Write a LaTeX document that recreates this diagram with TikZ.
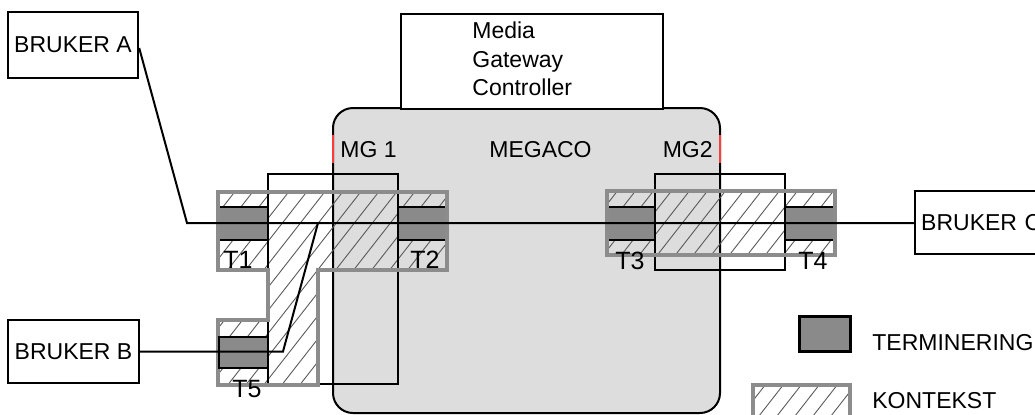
\documentclass[tikz,border=0pt]{standalone}
\usepackage{fontspec}
\setmainfont{Liberation Sans}
\definecolor{megafill}{HTML}{DDDDDD}
\definecolor{ctxgray}{HTML}{8C8C8C}
\definecolor{termgray}{HTML}{8A8A8A}
\definecolor{hatchgray}{HTML}{5A5A5A}
\definecolor{markred}{HTML}{FF3B3B}
\begin{document}
\begin{tikzpicture}[x=0.5pt,y=-0.5pt,
  box/.style={draw=black,line width=1.2pt,fill=white,inner sep=0pt,font=\fontsize{11.5}{14}\selectfont},
  lbl/.style={font=\fontsize{11.5}{14}\selectfont,inner sep=0pt},
  tlbl/.style={font=\fontsize{12.5}{15}\selectfont,inner sep=0pt,anchor=base west},
  sig/.style={line width=1pt,draw=black},
  ctx/.style={draw=ctxgray,line width=1.6pt,line join=miter},
  hatchline/.style={draw=hatchgray,line width=0.45pt},
  blk/.style={draw=black,line width=1pt},
  termfill/.style={fill=termgray},
  termline/.style={draw=black,line width=1.3pt},
]
\useasboundingbox (0,0) rectangle (1035,414);
\clip (0,0) rectangle (1035,414);

% MEGACO gateway body
\draw[line width=1pt,fill=megafill,rounded corners=10pt] (333,108) rectangle (720,413);
\node[draw=black,line width=1pt,fill=white,inner sep=0pt,minimum width=131pt,minimum height=47.5pt,anchor=north west] (mgc) at (400,13) {};
\node[lbl,anchor=base west] (mgc1) at (472,38) {Media};
\node[lbl,anchor=base west] (mgc2) at (472,67) {Gateway};
\node[lbl,anchor=base west] (mgc3) at (472,95) {Controller};
\draw[markred,line width=1pt] (333,135) -- (333,163);
\draw[markred,line width=1pt] (720,135) -- (720,163);
\node[lbl,anchor=base west] (mg1) at (340,157) {MG 1};
\node[lbl,anchor=base west] (meg) at (489,157) {MEGACO};
\node[lbl,anchor=base east] (mg2) at (713,157) {MG2};

% hatching of contexts
\begin{scope}
  \clip (218,192) -- (447,192) -- (447,270) -- (318,270) -- (318,385) -- (218,385) -- (218,320) -- (268,320) -- (268,270) -- (218,270) -- cycle;
  \foreach \x in {0,18,...,700} \draw[hatchline] (\x,400) -- ++(172,-220);
\end{scope}
\begin{scope}
  \clip (607,191) rectangle (835,255);
  \foreach \x in {400,418,...,900} \draw[hatchline] (\x,400) -- ++(172,-220);
\end{scope}

% terminations T1..T4
\foreach \a/\b in {218/268,398/447,607/655,785/835} {
  \fill[termfill] (\a,207) rectangle (\b,240);
  \draw[termline] (\a,207) -- (\b,207);
  \draw[termline] (\a,240) -- (\b,240);
}

% black context frames
\draw[blk] (268,174) rectangle (398,384);
\draw[blk] (655,174) rectangle (785,270);

% gray context outlines
\draw[ctx] (218,192) -- (447,192) -- (447,270) -- (318,270) -- (318,385) -- (218,385) -- (218,320) -- (268,320) -- (268,270) -- (218,270) -- cycle;
\draw[ctx] (607,191) rectangle (835,255);

% termination T5
\draw[termfill,draw=black,line width=1.4pt] (219,337) rectangle (268,368);

% users
\node[box,minimum width=65pt,minimum height=33pt] (bA) at (73,45) {BRUKER A};
\node[box,minimum width=65.5pt,minimum height=31.5pt] (bB) at (73.5,351.5) {BRUKER B};
\node[box,anchor=west,minimum height=31.5pt,text width=64pt,inner xsep=3pt,align=left] (bC) at (914,222.5) {BRUKER C};

% signal lines
\coordinate (kA) at (187,223);
\coordinate (kB1) at (283,351.5);
\coordinate (kB2) at (318,223);
\draw[sig] ([yshift=-1.5pt]bA.east) -- (kA) -- (kA -| bC.west);
\draw[sig] (bB.east) -- (kB1) -- (kB2);

% termination labels
\node[tlbl] (t1) at (223,268) {T1};
\node[tlbl] (t2) at (410,268) {T2};
\node[tlbl] (t3) at (615,269) {T3};
\node[tlbl] (t4) at (798,269) {T4};
\node[tlbl] (t5) at (232,397) {T5};

% legend
\draw[termfill,draw=black,line width=1.5pt] (799,316) rectangle (850,351);
\node[lbl,anchor=base west] (lt) at (872,350) {TERMINERING};
\begin{scope}
  \clip (753,385) rectangle (850,430);
  \foreach \x in {550,568,...,900} \draw[hatchline] (\x,430) -- ++(172,-220);
\end{scope}
\draw[ctx] (753,385) rectangle (850,440);
\node[lbl,anchor=base west] (lk) at (872,408) {KONTEKST};
\end{tikzpicture}
\end{document}
